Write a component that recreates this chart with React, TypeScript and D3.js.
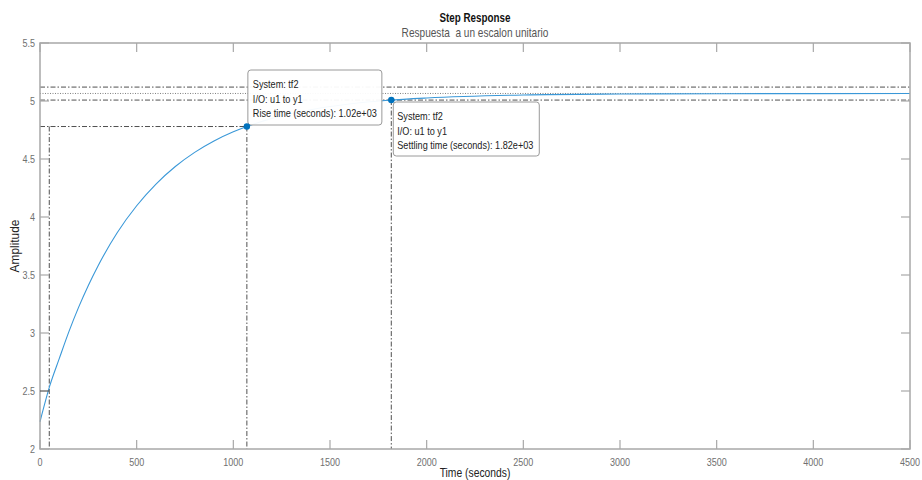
import React from "react";
import * as d3 from "d3";

const timeValues = [0, 50, 100, 150, 200, 250, 300, 400, 500, 600, 700, 800, 900, 1000, 1070, 1200, 1400, 1600, 1800, 2000, 2500, 3000, 3500, 4000, 4500];
const amplitudeValues = [2.235, 2.542, 2.781, 3.014, 3.223, 3.41, 3.578, 3.866, 4.097, 4.284, 4.435, 4.557, 4.655, 4.734, 4.78, 4.85, 4.925, 4.974, 5.006, 5.026, 5.052, 5.06, 5.063, 5.064, 5.065];
const xTickValues = [0, 500, 1000, 1500, 2000, 2500, 3000, 3500, 4000, 4500];
const yTickValues = [2, 2.5, 3, 3.5, 4, 4.5, 5, 5.5];
const finalValue = 5.065;
const settleUpper = 5.12;
const settleLower = 5.008;
const riseStartTime = 48;
const riseEndTime = 1070;
const riseLevel = 4.78;
const settlingTime = 1817;
const riseTipLines = ["System: tf2", "I/O: u1 to y1", "Rise time (seconds): 1.02e+03"];
const settleTipLines = ["System: tf2", "I/O: u1 to y1", "Settling time (seconds): 1.82e+03"];

const FONT = "'Liberation Sans', Arial, sans-serif";

function NText(props: { x: number; y: number; size: number; sx: number; anchor?: string; fill?: string; weight?: string; children: React.ReactNode }) {
  const { x, y, size, sx, anchor = "start", fill = "#222", weight = "normal", children } = props;
  return (
    <text transform={`translate(${x},${y}) scale(${sx},1)`} textAnchor={anchor} fontSize={size} fill={fill} fontWeight={weight} xmlSpace="preserve" style={{ whiteSpace: "pre" }}>
      {children}
    </text>
  );
}

export default function App() {
  const W = 922, H = 480;
  const L = 40, R = 910, T = 43, B = 449;
  const x = d3.scaleLinear().domain([0, 4500]).range([L, R]);
  const y = d3.scaleLinear().domain([2, 5.5]).range([B, T]);
  const pts: [number, number][] = timeValues.map((t, i) => [t, amplitudeValues[i]]);
  const line = d3.line<[number, number]>().x(d => x(d[0])).y(d => y(d[1])).curve(d3.curveMonotoneX);
  const dashDot = "5,2,1.5,2";
  const lineCol = "#505050";
  const axisCol = "#a8a8a8";
  const tickLabCol = "#707070";

  const rx = x(riseEndTime), ry = y(riseLevel);
  const sx = x(settlingTime), sy = y(settleLower);

  return (
    <svg width={W} height={H} style={{ position: "absolute", left: 0, top: 0, background: "#fff" }} fontFamily={FONT}>
      <rect x={0} y={0} width={W} height={H} fill="#fff" />
      {/* characteristic lines */}
      <line x1={L} x2={R} y1={y(settleUpper)} y2={y(settleUpper)} stroke={lineCol} strokeWidth={1} strokeDasharray={dashDot} />
      <line x1={L} x2={R} y1={y(settleLower)} y2={y(settleLower)} stroke={lineCol} strokeWidth={1} strokeDasharray={dashDot} />
      <line x1={L} x2={R} y1={y(finalValue)} y2={y(finalValue)} stroke="#808080" strokeWidth={1} strokeDasharray="1,1.5" />
      <line x1={L} x2={rx} y1={ry} y2={ry} stroke={lineCol} strokeWidth={1} strokeDasharray={dashDot} />
      <line x1={x(riseStartTime)} x2={x(riseStartTime)} y1={ry} y2={B} stroke={lineCol} strokeWidth={1} strokeDasharray={dashDot} />
      <line x1={rx} x2={rx} y1={ry} y2={B} stroke={lineCol} strokeWidth={1} strokeDasharray={dashDot} />
      <line x1={sx} x2={sx} y1={sy} y2={B} stroke={lineCol} strokeWidth={1} strokeDasharray={dashDot} />
      {/* response */}
      <path d={line(pts) || ""} fill="none" stroke="#3a98d8" strokeWidth={1.1} />
      {/* axes box */}
      <rect x={L} y={T} width={R - L} height={B - T} fill="none" stroke={axisCol} strokeWidth={1.5} />
      {xTickValues.map(t => (
        <g key={"xt" + t}>
          <line x1={x(t)} x2={x(t)} y1={B} y2={B - 9} stroke={axisCol} strokeWidth={1.2} />
          <line x1={x(t)} x2={x(t)} y1={T} y2={T + 9} stroke={axisCol} strokeWidth={1.2} />
          <NText x={x(t)} y={466} size={11} sx={0.82} anchor="middle" fill={tickLabCol}>{String(t)}</NText>
        </g>
      ))}
      {yTickValues.map(v => (
        <g key={"yt" + v}>
          <line x1={L} x2={L + 9} y1={y(v)} y2={y(v)} stroke={v === 2.5 ? "#555" : axisCol} strokeWidth={1.2} />
          <line x1={R} x2={R - 9} y1={y(v)} y2={y(v)} stroke={axisCol} strokeWidth={1.2} />
          <NText x={35} y={y(v) + 4} size={11} sx={0.82} anchor="end" fill={tickLabCol}>{String(v)}</NText>
        </g>
      ))}
      {/* labels */}
      <NText x={(L + R) / 2} y={22} size={12} sx={0.82} anchor="middle" weight="bold" fill="#111">Step Response</NText>
      <NText x={(L + R) / 2} y={37} size={12} sx={0.84} anchor="middle" fill="#555">Respuesta  a un escalon unitario</NText>
      <NText x={(L + R) / 2} y={477} size={12} sx={0.86} anchor="middle" fill="#222">Time (seconds)</NText>
      <text transform={`translate(19,${(T + B) / 2}) rotate(-90) scale(0.95,1)`} textAnchor="middle" fontSize={12.5} fill="#222">Amplitude</text>
      {/* data tips */}
      <rect x={rx + 1} y={70} width={134} height={55} rx={3} fill="#fff" fillOpacity={0.95} stroke="#9a9a9a" strokeWidth={1} />
      {riseTipLines.map((s, i) => (
        <NText key={"r" + i} x={rx + 6} y={88 + i * 14.5} size={11} sx={0.83} fill="#222">{s}</NText>
      ))}
      <rect x={sx + 2} y={102} width={146} height={54} rx={3} fill="#fff" fillOpacity={0.95} stroke="#9a9a9a" strokeWidth={1} />
      {settleTipLines.map((s, i) => (
        <NText key={"s" + i} x={sx + 6} y={120 + i * 14.5} size={11} sx={0.83} fill="#222">{s}</NText>
      ))}
      <circle cx={rx} cy={ry} r={3.2} fill="#0072BD" />
      <circle cx={sx} cy={sy} r={3.2} fill="#0072BD" />
    </svg>
  );
}
